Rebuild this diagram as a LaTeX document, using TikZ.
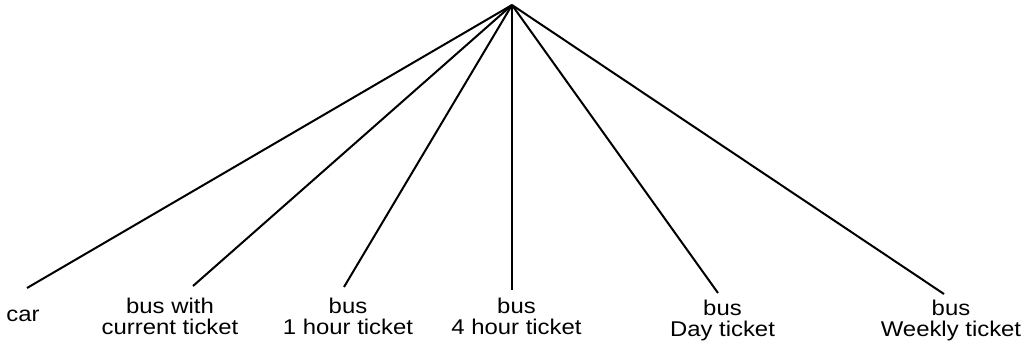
\documentclass[tikz,border=0pt]{standalone}
\usepackage{fontspec}
\setmainfont{Liberation Sans}[FakeStretch=1.12]
\begin{document}
\begin{tikzpicture}[x=0.75pt,y=-0.75pt,
  branch/.style={draw=black,line width=1.5pt},
  leaf/.style={inner sep=0pt,align=center,font=\fontsize{16pt}{16pt}\selectfont}]
\useasboundingbox (0,0) rectangle (1029,347);
% apex of the tree
\coordinate (root) at (512,5);
% lower ends of the branches
\coordinate (eCar)  at (27,288);
\coordinate (eCur)  at (193,286);
\coordinate (eOne)  at (344,287);
\coordinate (eFour) at (512,290);
\coordinate (eDay)  at (718,293);
\coordinate (eWeek) at (944,294);
% option labels
\node[leaf,anchor=base]  (car)  at (23,321.5)  {car};
\node[leaf,anchor=north] (cur)  at (170,297.5) {bus with\\current ticket};
\node[leaf,anchor=north] (one)  at (348,297.5) {bus\\1 hour ticket};
\node[leaf,anchor=north] (four) at (516.5,297.8) {bus\\4 hour ticket};
\node[leaf,anchor=north] (day)  at (722.5,299.5) {bus\\Day ticket};
\node[leaf,anchor=north] (week) at (951,299.5) {bus\\Weekly ticket};
% branches
\foreach \e in {eCar,eCur,eOne,eFour,eDay,eWeek}
  \draw[branch] (root) -- (\e);
\end{tikzpicture}
\end{document}
